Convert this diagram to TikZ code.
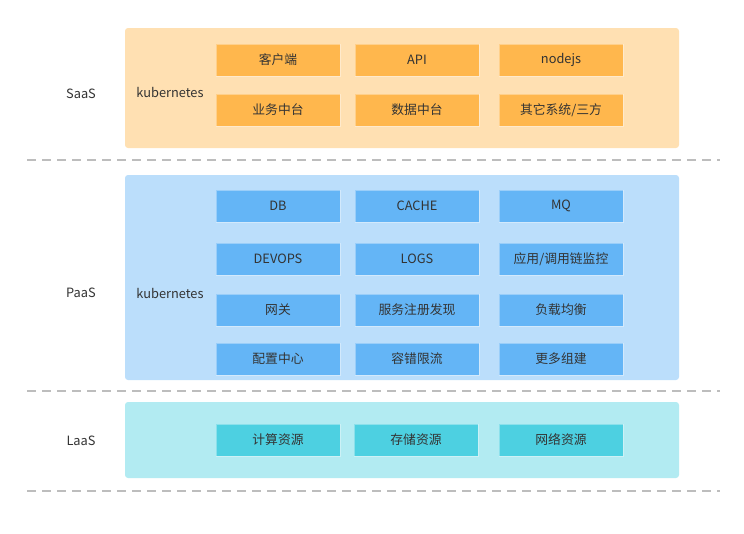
\documentclass[tikz,border=0pt]{standalone}
\usepackage{fontspec}
\setmainfont{Noto Sans CJK SC}
\definecolor{saasbg}{HTML}{FFE0B2}
\definecolor{saasbox}{HTML}{FFB74D}
\definecolor{paasbg}{HTML}{BBDEFB}
\definecolor{paasbox}{HTML}{64B5F6}
\definecolor{laasbg}{HTML}{B2EBF2}
\definecolor{laasbox}{HTML}{4DD0E1}
\definecolor{txt}{HTML}{333333}
\definecolor{dash}{HTML}{BDBDBD}
\begin{document}
\begin{tikzpicture}[x=1pt,y=-1pt,
  every node/.style={text=txt,font=\fontsize{12.8}{15}\selectfont},
  panel/.style={rounded corners=3pt,draw=none},
  item/.style={draw=white,draw opacity=0.35,line width=1pt,minimum width=124pt,minimum height=32pt,inner sep=0pt,anchor=center},
  sepline/.style={draw=dash,line width=1.4pt,dash pattern=on 9pt off 6pt},
  lbl/.style={anchor=center}]
\useasboundingbox (0,0) rectangle (744,533);
% panels
\fill[saasbg,panel] (125,28) rectangle (679,148);
\fill[paasbg,panel] (125,175) rectangle (679,380);
\fill[laasbg,panel] (125,402) rectangle (679,478);
% separators
\coordinate (s1a) at (27,160); \coordinate (s1b) at (720,160);
\coordinate (s2a) at (27,391); \coordinate (s2b) at (720,391);
\coordinate (s3a) at (27,491); \coordinate (s3b) at (720,491);
\draw[sepline] (s1a) -- (s1b);
\draw[sepline] (s2a) -- (s2b);
\draw[sepline] (s3a) -- (s3b);
% layer labels
\node[lbl] (saas) at (81,94) {SaaS};
\node[lbl] (paas) at (81,293) {PaaS};
\node[lbl] (laas) at (81,441) {LaaS};
\node[lbl] (k1) at (170,92) {kubernetes};
\node[lbl] (k2) at (170,293) {kubernetes};
% SaaS boxes
\begin{scope}[every node/.append style={item,fill=saasbox}]
\node (a1) at (278,60) {客户端};
\node (a2) at (417,60) {API};
\node (a3) at (561,60) {nodejs};
\node (a4) at (278,110) {业务中台};
\node (a5) at (417,110) {数据中台};
\node (a6) at (561,110) {其它系统/三方};
\end{scope}
% PaaS boxes
\begin{scope}[every node/.append style={item,fill=paasbox}]
\node (b1) at (278,206) {DB};
\node (b2) at (417,206) {CACHE};
\node (b3) at (561,206) {MQ};
\node (b4) at (278,259) {DEVOPS};
\node (b5) at (417,259) {LOGS};
\node (b6) at (561,259) {应用/调用链监控};
\node (b7) at (278,310) {网关};
\node (b8) at (417,310) {服务注册发现};
\node (b9) at (561,310) {负载均衡};
\node (b10) at (278,359) {配置中心};
\node (b11) at (417,359) {容错限流};
\node (b12) at (561,359) {更多组建};
\end{scope}
% LaaS boxes
\begin{scope}[every node/.append style={item,fill=laasbox}]
\node (c1) at (278,440) {计算资源};
\node (c2) at (416,440) {存储资源};
\node (c3) at (561,440) {网络资源};
\end{scope}
\end{tikzpicture}
\end{document}
